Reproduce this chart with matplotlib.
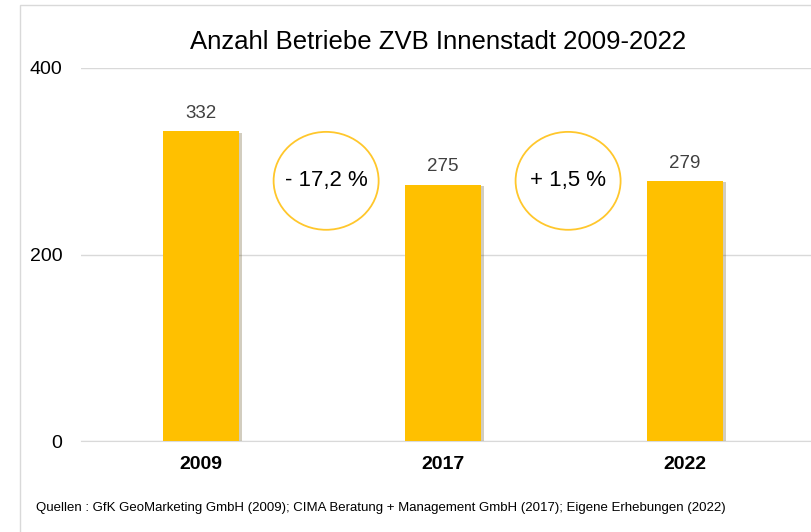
import matplotlib.pyplot as plt
from matplotlib.patches import Ellipse, Rectangle
import matplotlib.patheffects as pe

plt.rcParams['font.family'] = ['Liberation Sans', 'DejaVu Sans']

# Daten
years = ["2009", "2017", "2022"]
betriebe = [332, 275, 279]
changes = ["- 17,2 %", "+ 1,5 %"]
yticks = [0, 200, 400]

BAR_COLOR = "#FFC000"

fig = plt.figure(figsize=(8.12, 5.32), dpi=100)
ax = fig.add_axes([81 / 812, 1 - 441 / 532, 731 / 812, 373 / 532])

x = list(range(len(years)))
bars = ax.bar(x, betriebe, width=0.314, color=BAR_COLOR, zorder=3)
for b in bars:
    b.set_path_effects([pe.SimplePatchShadow(offset=(2, -1), alpha=0.25), pe.Normal()])

for xi, v in zip(x, betriebe):
    ax.text(xi, v + 10, str(v), ha="center", va="bottom", fontsize=13.5, color="#404040")

# Veränderungen in Ellipsen zwischen den Balken
for i, txt in enumerate(changes):
    cx = i + 0.517
    ax.add_patch(Ellipse((cx, 279), 0.434, 105, fill=False, edgecolor="#FFC72C",
                         linewidth=1.3, zorder=4))
    ax.text(cx, 279, txt, ha="center", va="center", fontsize=16, color="black", zorder=5)

ax.set_xlim(-0.496, 2.525)
ax.set_ylim(0, 400)
ax.set_yticks(yticks)
ax.set_xticks(x)
ax.set_xticklabels(years, fontsize=14, fontweight="bold")
ax.tick_params(axis="y", labelsize=14, length=0, pad=13.5)
ax.tick_params(axis="x", length=0, pad=11)
ax.yaxis.grid(True, color="#D9D9D9", linewidth=1, zorder=0)
ax.set_axisbelow(True)
for s in ax.spines.values():
    s.set_visible(False)
ax.spines["bottom"].set_visible(True)
ax.spines["bottom"].set_color("#D9D9D9")

fig.text(438 / 812, 1 - 42 / 532, "Anzahl Betriebe ZVB Innenstadt 2009-2022",
         ha="center", va="center", fontsize=18.5)
fig.text(36 / 812, 1 - 508 / 532,
         "Quellen : GfK GeoMarketing GmbH (2009); CIMA Beratung + Management GmbH (2017); Eigene Erhebungen (2022)",
         ha="left", va="center", fontsize=9.5)

# Rahmen
fig.patches.append(Rectangle((20 / 812, -0.1), 1.2, 1 - 5 / 532 + 0.1, transform=fig.transFigure,
                             fill=False, edgecolor="#D9D9D9", linewidth=1))

fig.savefig("out.png", dpi=100)
